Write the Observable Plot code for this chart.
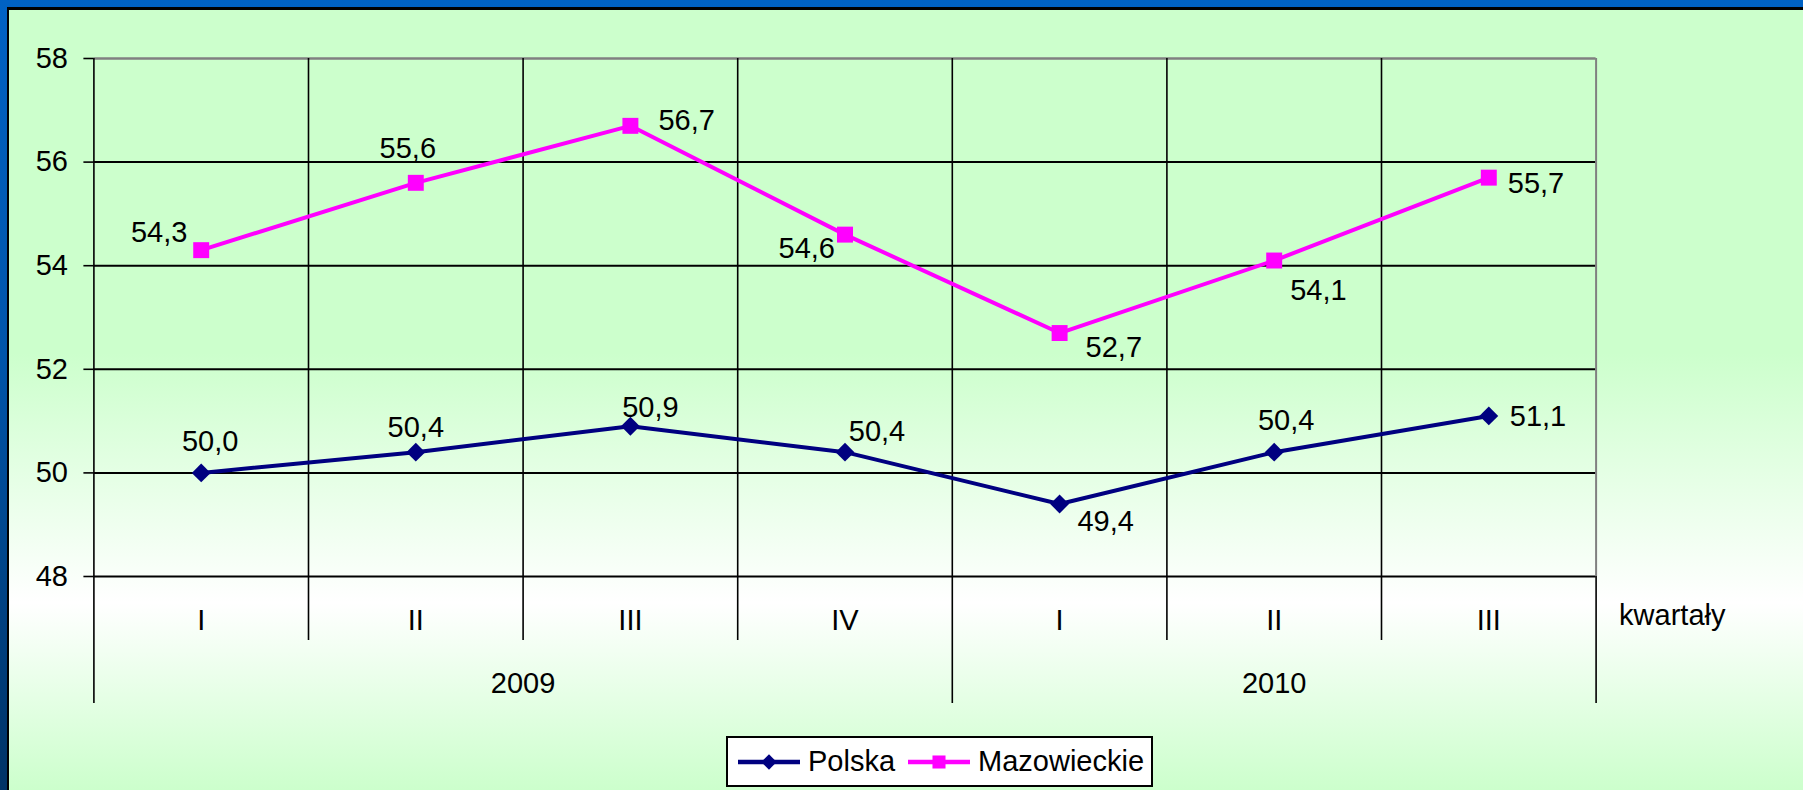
<!DOCTYPE html>
<html>
<head>
<meta charset="utf-8">
<script src="https://cdn.jsdelivr.net/npm/d3@7"></script>
<script src="https://cdn.jsdelivr.net/npm/@observablehq/plot@0.6"></script>
<style>
  html, body { margin: 0; padding: 0; }
  #wrap {
    position: relative; width: 1803px; height: 790px; overflow: hidden;
    font-family: "Liberation Sans", Arial, sans-serif;
    background:
      linear-gradient(to bottom, #CCFFCC 0%, #CCFFCC 44%, #FFFFFF 76%, #CCFFCC 100%) 9px 10px / 1794px 780px no-repeat,
      linear-gradient(#000, #000) 7px 7px / 1796px 783px no-repeat,
      linear-gradient(to bottom, #0062C4 0%, #0055AA 45%, #003366 100%);
  }
  #chart { position: absolute; left: 0; top: 0; }
  #chart svg { display: block; }
  #legend {
    position: absolute; left: 726px; top: 736px; width: 427px; height: 51px;
    box-sizing: border-box; background: #fff; border: 2px solid #000;
    display: flex; align-items: center; padding-left: 10px;
    font-size: 29px; color: #000;
  }
  #legend .item { display: flex; align-items: center; margin-right: 13px; }
  #legend svg { display: block; margin-right: 8px; }
</style>
</head>
<body>
<div id="wrap">
  <div id="chart"></div>
  <div id="legend"></div>
</div>
<script>
// ---- data ----
const categories = ["I", "II", "III", "IV", "I", "II", "III"];
const years = ["2009", "2010"];
const quartersPerYear = [4, 3];
const polska = [50.0, 50.4, 50.9, 50.4, 49.4, 50.4, 51.1];
const mazowieckie = [54.3, 55.6, 56.7, 54.6, 52.7, 54.1, 55.7];
const yTicks = [48, 50, 52, 54, 56, 58];
const seriesNames = ["Polska", "Mazowieckie"];
const xAxisTitle = "kwartały";

// ---- layout / style (not data) ----
const colors = {Polska: "#000080", Mazowieckie: "#FF00FF"};
// label offsets [dx, dy, textAnchor]
const polskaLabelPos = [[9,-31,"middle"],[0,-24,"middle"],[20,-19,"middle"],[32,-20,"middle"],[46,18,"middle"],[12,-31,"middle"],[21,1,"start"]];
const mazLabelPos = [[-42,-17,"middle"],[-8,-34,"middle"],[28,-5,"start"],[-10,14,"end"],[26,15,"start"],[16,30,"start"],[19,6,"start"]];

const FS = 29;
const fmt = v => v.toFixed(1).replace(".", ",");
const xc = i => i + 0.5;

// boundaries between categories
const yearBounds = [0];
quartersPerYear.forEach(n => yearBounds.push(yearBounds[yearBounds.length - 1] + n));
const innerSeps = d3.range(1, categories.length).filter(b => !yearBounds.includes(b));
const yearCenters = years.map((y, i) => (yearBounds[i] + yearBounds[i + 1]) / 2);
const gridBlack = yTicks.filter(t => t !== d3.max(yTicks));

const labelMarks = (vals, pos) => vals.map((v, i) => Plot.text([v], {
  x: () => xc(i), y: d => d, text: d => fmt(d),
  dx: pos[i][0], dy: pos[i][1], textAnchor: pos[i][2], lineAnchor: "middle",
  fontSize: FS, fill: "#000"
}));

const chart = Plot.plot({
  width: 1803, height: 790,
  marginLeft: 93.4, marginRight: 207.4, marginTop: 58, marginBottom: 214,
  style: {background: "transparent", fontFamily: "Liberation Sans, Arial, sans-serif", fontSize: FS + "px", color: "#000"},
  x: {type: "linear", domain: [0, categories.length]},
  y: {domain: [d3.min(yTicks), d3.max(yTicks)]},
  marks: [
    Plot.ruleY(gridBlack, {stroke: "#000", strokeWidth: 2}),
    Plot.ruleY([d3.max(yTicks)], {stroke: "#808080", strokeWidth: 2.5}),
    Plot.ruleX(d3.range(0, categories.length), {stroke: "#000", strokeWidth: 1.6}),
    Plot.ruleX([categories.length], {stroke: "#808080", strokeWidth: 2}),
    Plot.axisX({ticks: innerSeps, tickSize: 64, tickFormat: () => "", stroke: "#000", strokeWidth: 1.6, label: null}),
    Plot.axisX({ticks: yearBounds, tickSize: 127, tickFormat: () => "", stroke: "#000", strokeWidth: 1.6, label: null}),
    Plot.axisY({ticks: yTicks, tickSize: 10, tickPadding: 16, tickFormat: d => String(d), fontSize: FS, stroke: "#000", strokeWidth: 1.6, fill: "#000", label: null}),
    Plot.text(categories, {x: (d, i) => xc(i), frameAnchor: "bottom", dy: 44, lineAnchor: "middle", text: d => d, fontSize: FS, fill: "#000"}),
    Plot.text(years, {x: (d, i) => yearCenters[i], frameAnchor: "bottom", dy: 107, lineAnchor: "middle", text: d => d, fontSize: FS, fill: "#000"}),
    Plot.text([xAxisTitle], {x: () => categories.length, frameAnchor: "bottom", dx: 23, dy: 39, textAnchor: "start", lineAnchor: "middle", text: d => d, fontSize: FS, fill: "#000"}),
    Plot.line(mazowieckie, {x: (d, i) => xc(i), y: d => d, stroke: colors.Mazowieckie, strokeWidth: 4}),
    Plot.line(polska, {x: (d, i) => xc(i), y: d => d, stroke: colors.Polska, strokeWidth: 4}),
    Plot.dot(mazowieckie, {x: (d, i) => xc(i), y: d => d, symbol: "square", r: 9, fill: colors.Mazowieckie, stroke: "none"}),
    Plot.dot(polska, {x: (d, i) => xc(i), y: d => d, symbol: "diamond2", r: 8.5, fill: colors.Polska, stroke: "none"}),
    ...labelMarks(mazowieckie, mazLabelPos),
    ...labelMarks(polska, polskaLabelPos)
  ]
});
document.getElementById("chart").appendChild(chart);

// ---- legend ----
const legend = d3.select("#legend");
const symbols = {Polska: d3.symbol(d3.symbolDiamond2, 150), Mazowieckie: d3.symbol(d3.symbolSquare, 170)};
seriesNames.forEach(name => {
  const item = legend.append("div").attr("class", "item");
  const s = item.append("svg").attr("width", 62).attr("height", 20);
  s.append("line").attr("x1", 0).attr("x2", 62).attr("y1", 10).attr("y2", 10)
    .attr("stroke", colors[name]).attr("stroke-width", 4.5);
  s.append("path").attr("d", symbols[name]()).attr("transform", "translate(31,10)").attr("fill", colors[name]);
  item.append("span").text(name);
});
</script>
</body>
</html>
